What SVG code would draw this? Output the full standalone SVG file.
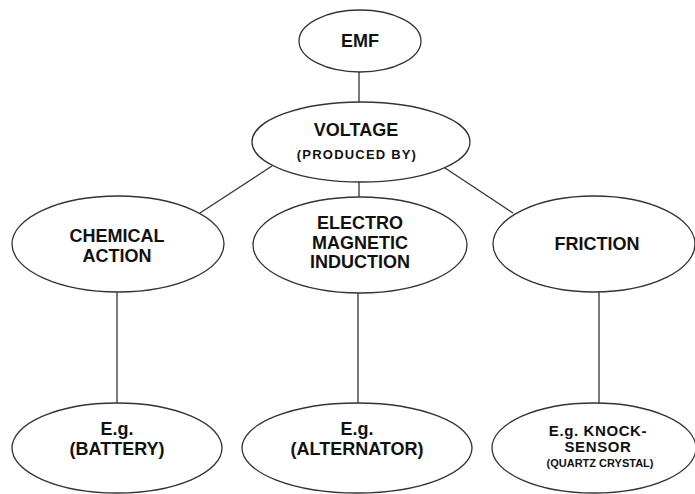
<svg xmlns="http://www.w3.org/2000/svg" width="695" height="494" viewBox="0 0 695 494">
<style>
  .node { fill: #ffffff; stroke: #333333; stroke-width: 1.3; }
  .conn line { stroke: #333333; stroke-width: 1.3; }
  text { font-family: "Liberation Sans", Arial, sans-serif; fill: #111111; text-anchor: middle; }
  .big { font-size: 18px; font-weight: bold; }
  .mid { font-size: 15px; font-weight: bold; letter-spacing: 0.6px; }
  .small { font-size: 13px; font-weight: bold; letter-spacing: 1.2px; }
  .tiny { font-size: 11px; font-weight: bold; }
</style>
<rect width="695" height="494" fill="#ffffff"/>
<g id="connectors" class="conn">
  <line x1="359" y1="72" x2="359" y2="103"/>
  <line x1="272" y1="166" x2="200" y2="213"/>
  <line x1="359" y1="182" x2="359" y2="197"/>
  <line x1="442" y1="166" x2="513" y2="213"/>
  <line x1="117" y1="292" x2="117" y2="403"/>
  <line x1="358" y1="292" x2="358" y2="403"/>
  <line x1="599" y1="292" x2="599" y2="403"/>
</g>
<g id="emf">
  <ellipse class="node" cx="360" cy="41" rx="61" ry="31"/>
  <text class="big" x="360" y="47">EMF</text>
</g>
<g id="voltage">
  <ellipse class="node" cx="361" cy="142" rx="109" ry="40"/>
  <text class="big" x="356" y="136">VOLTAGE</text>
  <text class="small" x="357" y="159">(PRODUCED BY)</text>
</g>
<g id="chemical">
  <ellipse class="node" cx="118" cy="244" rx="106" ry="48"/>
  <text class="big" x="117" y="242">CHEMICAL</text>
  <text class="big" x="117" y="262">ACTION</text>
</g>
<g id="electromagnetic">
  <ellipse class="node" cx="360" cy="245" rx="107" ry="48"/>
  <text class="big" x="360" y="229">ELECTRO</text>
  <text class="big" x="360" y="249">MAGNETIC</text>
  <text class="big" x="360" y="268">INDUCTION</text>
</g>
<g id="friction">
  <ellipse class="node" cx="594" cy="244" rx="101" ry="48"/>
  <text class="big" x="597" y="250">FRICTION</text>
</g>
<g id="battery">
  <ellipse class="node" cx="117" cy="448" rx="105" ry="45"/>
  <text class="big" x="117" y="435">E.g.</text>
  <text class="big" x="117" y="455">(BATTERY)</text>
</g>
<g id="alternator">
  <ellipse class="node" cx="357" cy="448" rx="115" ry="45"/>
  <text class="big" x="357" y="435">E.g.</text>
  <text class="big" x="357" y="455">(ALTERNATOR)</text>
</g>
<g id="knock">
  <ellipse class="node" cx="594" cy="448" rx="102" ry="45"/>
  <text class="mid" x="598" y="436">E.g. KNOCK-</text>
  <text class="mid" x="598" y="452">SENSOR</text>
  <text class="tiny" x="600" y="467">(QUARTZ CRYSTAL)</text>
</g>
</svg>
